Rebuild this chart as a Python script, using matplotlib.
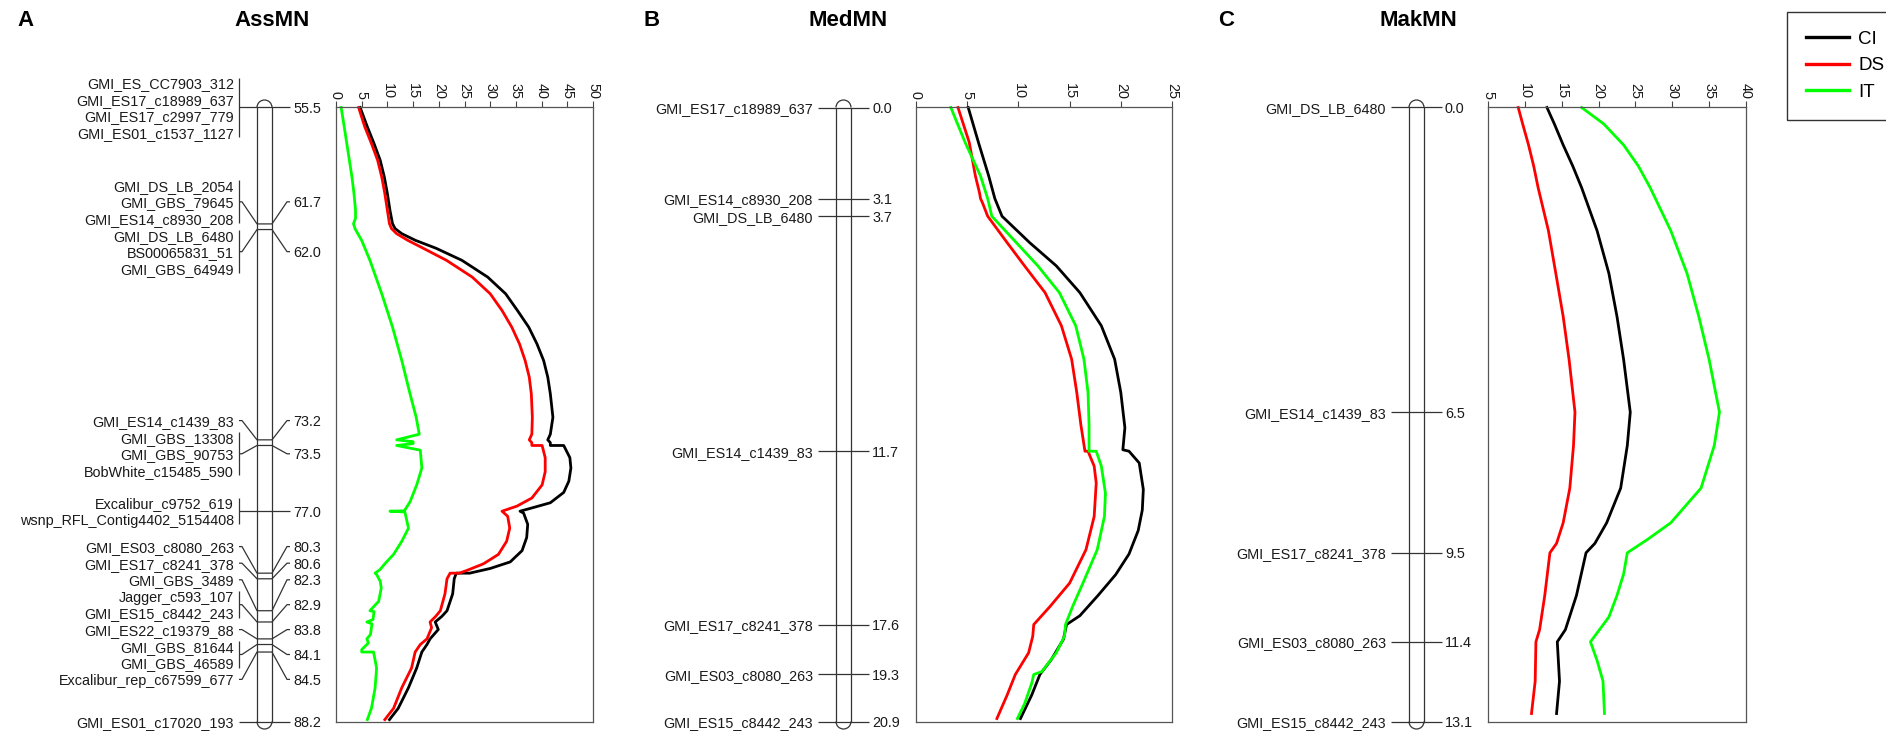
import matplotlib
matplotlib.use("Agg")
import matplotlib.pyplot as plt
from matplotlib.patches import Arc
from matplotlib.lines import Line2D

plt.rcParams['font.family'] = ['Liberation Sans', 'DejaVu Sans']

W, H = 1886, 732

# ---------------- linkage maps ----------------
a_positions = [55.5, 61.7, 62.0, 73.2, 73.5, 77.0, 80.3, 80.6, 82.3, 82.9, 83.8, 84.1, 84.5, 88.2]
a_markers = [
    ["GMI_ES_CC7903_312", "GMI_ES17_c18989_637", "GMI_ES17_c2997_779", "GMI_ES01_c1537_1127"],
    ["GMI_DS_LB_2054", "GMI_GBS_79645", "GMI_ES14_c8930_208"],
    ["GMI_DS_LB_6480", "BS00065831_51", "GMI_GBS_64949"],
    ["GMI_ES14_c1439_83"],
    ["GMI_GBS_13308", "GMI_GBS_90753", "BobWhite_c15485_590"],
    ["Excalibur_c9752_619", "wsnp_RFL_Contig4402_5154408"],
    ["GMI_ES03_c8080_263"],
    ["GMI_ES17_c8241_378"],
    ["GMI_GBS_3489"],
    ["Jagger_c593_107", "GMI_ES15_c8442_243"],
    ["GMI_ES22_c19379_88"],
    ["GMI_GBS_81644", "GMI_GBS_46589"],
    ["Excalibur_rep_c67599_677"],
    ["GMI_ES01_c17020_193"],
]

b_positions = [0.0, 3.1, 3.7, 11.7, 17.6, 19.3, 20.9]
b_markers = [["GMI_ES17_c18989_637"], ["GMI_ES14_c8930_208"], ["GMI_DS_LB_6480"],
             ["GMI_ES14_c1439_83"], ["GMI_ES17_c8241_378"], ["GMI_ES03_c8080_263"],
             ["GMI_ES15_c8442_243"]]

c_positions = [0.0, 6.5, 9.5, 11.4, 13.1]
c_markers = [["GMI_DS_LB_6480"], ["GMI_ES14_c1439_83"], ["GMI_ES17_c8241_378"],
             ["GMI_ES03_c8080_263"], ["GMI_ES15_c8442_243"]]

# ---------------- LOD curves (position cM, LOD) ----------------
a_ci_cm = [55.5, 56.53, 57.42, 58.31, 59.2, 60.09, 60.98, 61.69, 61.95, 62.22, 62.58, 63.0, 63.64,
           64.53, 65.42, 66.31, 67.2, 68.09, 68.98, 69.86, 70.75, 72.0, 72.9, 73.2, 73.35, 73.5,
           73.5, 74.15, 74.7, 75.4, 76.0, 76.55, 76.85, 77.0, 77.1, 77.7, 78.4, 79.1, 79.7, 80.05,
           80.3, 80.3, 80.6, 81.4, 82.3, 82.6, 82.9, 83.3, 83.8, 84.1, 84.5, 85.35, 86.4, 87.5, 88.1]
a_ci_lod = [4.7, 6.1, 7.4, 8.6, 9.4, 10.0, 10.5, 11.0, 11.5, 12.8, 15.5, 19.5, 24.5,
            29.5, 33.0, 35.3, 37.5, 39.1, 40.4, 41.2, 41.7, 42.2, 41.7, 41.2, 41.7, 41.7,
            44.3, 45.5, 45.7, 45.3, 44.3, 41.7, 37.8, 35.8, 36.5, 37.3, 37.1, 36.2, 33.9, 30.0,
            26.0, 23.4, 23.0, 22.7, 21.6, 20.6, 19.3, 19.9, 18.3, 17.7, 16.7, 15.7, 14.1, 12.1, 10.4]

a_ds_cm = [55.5, 56.53, 57.42, 58.31, 59.2, 60.09, 60.98, 61.69, 61.95, 62.22, 62.58, 63.0, 63.64,
           64.53, 65.42, 66.31, 67.2, 68.09, 68.98, 69.86, 70.75, 72.0, 72.9, 73.2, 73.35, 73.5,
           73.5, 74.15, 74.9, 75.6, 76.3, 76.73, 77.0, 77.27, 77.9, 78.6, 79.3, 79.8, 80.15,
           80.3, 80.3, 80.6, 81.4, 82.3, 82.6, 82.9, 83.2, 83.8, 84.1, 84.5, 85.35, 86.4, 87.5, 88.1]
a_ds_lod = [4.4, 5.6, 6.9, 8.1, 8.9, 9.5, 10.0, 10.4, 10.8, 11.8, 14.0, 17.0, 21.5,
            26.5, 30.0, 32.3, 34.2, 35.7, 36.8, 37.6, 38.0, 38.2, 38.1, 37.6, 38.1, 38.1,
            40.1, 40.7, 40.7, 40.1, 38.1, 35.2, 32.3, 33.4, 33.8, 33.2, 31.6, 28.7, 25.5,
            24.0, 22.2, 21.6, 21.2, 20.3, 19.4, 18.3, 18.6, 17.7, 16.4, 15.4, 14.7, 12.8, 11.2, 9.5]

a_it_cm = [55.5, 56.53, 57.42, 58.31, 59.2, 60.09, 60.98, 61.4, 61.69, 61.95, 62.1, 62.58, 63.64,
           65.42, 67.2, 68.98, 70.75, 72.0, 72.9, 73.2, 73.3, 73.4, 73.5, 73.75, 74.7, 75.6,
           76.5, 76.98, 77.0, 77.04, 77.9, 78.6, 79.3, 79.8, 80.1, 80.3, 80.37, 80.73, 81.09,
           81.8, 82.3, 82.35, 82.77, 82.9, 83.0, 83.57, 83.8, 84.02, 84.37, 84.5, 84.5, 85.35,
           86.42, 87.49, 88.1]
a_it_lod = [1.0, 1.6, 2.1, 2.6, 3.1, 3.5, 3.8, 3.8, 3.4, 3.7, 4.0, 5.0, 6.6,
            8.9, 11.0, 12.8, 14.4, 15.6, 16.2, 11.8, 15.0, 15.0, 11.8, 16.4, 16.7, 15.7,
            14.4, 13.3, 10.5, 13.4, 14.1, 12.8, 11.2, 9.5, 8.6, 7.6, 7.9, 8.6, 8.8,
            8.3, 6.6, 7.4, 7.2, 6.0, 7.0, 6.7, 6.0, 6.3, 5.0, 5.0, 7.3, 7.9,
            7.6, 6.9, 6.1]

b_ci_cm = [0.0, 1.19, 2.33, 3.1, 3.7, 4.0, 4.6, 5.39, 6.3, 7.43, 8.57, 9.7, 10.9, 11.65, 11.7,
           12.1, 13.0, 13.7, 14.4, 15.2, 15.9, 16.6, 17.3, 17.6, 18.1, 18.8, 19.3, 20.0, 20.8]
b_ci_lod = [5.1, 6.1, 7.1, 7.7, 8.4, 9.3, 11.1, 13.7, 16.0, 18.1, 19.4, 20.0, 20.4, 20.2, 20.8,
            21.8, 22.2, 22.1, 21.7, 20.8, 19.5, 17.8, 16.0, 14.7, 14.4, 13.2, 12.1, 11.3, 10.2]

b_ds_cm = [0.0, 1.19, 2.33, 2.9, 3.1, 3.25, 3.7, 4.6, 5.39, 6.3, 7.43, 8.57, 9.7, 10.8, 11.7, 11.7,
           12.21, 12.78, 13.92, 15.05, 16.19, 16.98, 17.6, 18.0, 18.56, 19.3, 20.0, 20.8]
b_ds_lod = [4.1, 5.2, 5.8, 6.2, 6.3, 6.5, 7.0, 8.9, 10.6, 12.6, 14.2, 15.2, 15.7, 16.1, 16.5, 16.8,
            17.4, 17.6, 17.4, 16.6, 15.0, 13.1, 11.5, 11.4, 11.0, 9.7, 8.9, 7.9]

b_it_cm = [0.0, 1.19, 2.33, 3.1, 3.7, 4.6, 5.39, 6.3, 7.43, 8.57, 9.7, 10.8, 11.7, 11.7, 12.21,
           13.13, 13.92, 15.05, 16.19, 16.98, 17.6, 18.0, 18.56, 19.2, 19.3, 19.6, 20.3, 20.8]
b_it_lod = [3.4, 4.8, 6.3, 7.0, 7.4, 9.8, 11.9, 14.0, 15.6, 16.4, 16.8, 16.9, 16.9, 17.6, 18.1,
            18.5, 18.4, 17.7, 16.3, 15.3, 14.6, 14.5, 13.7, 12.3, 11.5, 11.3, 10.6, 9.9]

c_ci_cm = [0.0, 0.35, 0.8, 1.25, 1.71, 2.63, 3.54, 4.46, 5.38, 6.5, 7.21, 8.12, 8.86, 9.3, 9.5,
           10.41, 11.14, 11.4, 12.24, 12.93]
c_ci_lod = [13.0, 14.0, 15.2, 16.5, 17.7, 19.8, 21.4, 22.5, 23.4, 24.3, 23.9, 23.0, 21.1, 19.5,
            18.3, 17.0, 15.5, 14.4, 14.7, 14.3]

c_ds_cm = [0.0, 0.35, 0.8, 1.25, 1.71, 2.63, 3.54, 4.46, 5.38, 6.5, 7.21, 8.12, 8.86, 9.3, 9.5,
           10.41, 11.14, 11.4, 12.24, 12.93]
c_ds_lod = [9.1, 9.7, 10.5, 11.2, 11.8, 13.2, 14.2, 15.2, 16.0, 16.8, 16.6, 16.1, 15.2, 14.3,
            13.4, 12.7, 12.0, 11.5, 11.4, 10.9]

c_it_cm = [0.0, 0.35, 0.8, 1.25, 1.71, 2.63, 3.54, 4.46, 5.38, 6.5, 7.21, 8.12, 8.86, 9.22, 9.5,
           9.95, 10.41, 10.87, 11.4, 11.8, 12.24, 12.93]
c_it_lod = [17.7, 20.7, 23.4, 25.4, 27.0, 29.8, 32.0, 33.6, 35.0, 36.4, 35.7, 33.9, 29.8, 26.6,
            23.9, 23.4, 22.5, 21.4, 18.9, 19.8, 20.6, 20.8]

traits = ["CI", "DS", "IT"]
trait_colors = ["#000000", "#ff0000", "#00ff00"]

TXT = "#1a1a1a"
LINE = "#333333"
FS = 10.4


def px_axes(fig, x0, x1, y0, y1):
    return fig.add_axes([x0 / W, 1 - y1 / H, (x1 - x0) / W, (y1 - y0) / H])


def spread_labels(positions, counts, line_h):
    """Stack label blocks; overlapping blocks are merged into clusters centred
    on the middle of their wanted extent."""
    clusters = [[i] for i in range(len(positions))]

    def place(cl):
        lo = min(positions[i] - counts[i] * line_h / 2 for i in cl)
        hi = max(positions[i] + counts[i] * line_h / 2 for i in cl)
        total = sum(counts[i] for i in cl) * line_h
        start = (lo + hi) / 2 - total / 2
        out = []
        for i in cl:
            out.append(start + counts[i] * line_h / 2)
            start += counts[i] * line_h
        return start - total, start, out

    merged = True
    while merged:
        merged = False
        for k in range(len(clusters) - 1):
            _, end_k, _ = place(clusters[k])
            beg_n, _, _ = place(clusters[k + 1])
            if beg_n < end_k - 1e-9:
                clusters[k] = clusters[k] + clusters.pop(k + 1)
                merged = True
                break
    centres = []
    for cl in clusters:
        centres.extend(place(cl)[2])
    return centres


def draw_map(fig, bar_x, positions, markers, top, bottom):
    x0, x1 = bar_x - 260, bar_x + 60
    ax = px_axes(fig, x0, x1, top, bottom)
    ax.set_xlim(x0, x1)
    ax.set_ylim(positions[-1], positions[0])
    ax.axis('off')
    cm_px = (bottom - top) / (positions[-1] - positions[0])
    line_h = 16.6 / cm_px
    bl, br = bar_x, bar_x + 15

    c = spread_labels(positions, [len(m) for m in markers], line_h)

    kw = dict(color=LINE, lw=0.9, clip_on=False, solid_capstyle='butt')
    # chromosome bar
    ax.plot([bl, bl], [positions[0], positions[-1]], **kw)
    ax.plot([br, br], [positions[0], positions[-1]], **kw)
    cap_h = 15 / cm_px
    ax.add_patch(Arc((bl + 7.5, positions[0]), 15, cap_h, theta1=180, theta2=360,
                     color=LINE, lw=0.9, clip_on=False))
    ax.add_patch(Arc((bl + 7.5, positions[-1]), 15, cap_h, theta1=0, theta2=180,
                     color=LINE, lw=0.9, clip_on=False))

    for p, names, ci in zip(positions, markers, c):
        k = len(names)
        for j, name in enumerate(names):
            y = ci - k * line_h / 2 + (j + 0.5) * line_h
            ax.text(bl - 23, y, name, ha='right', va='center_baseline', fontsize=FS, color=TXT)
        if k > 1:
            ax.plot([bl - 18, bl - 18],
                    [ci - k * line_h / 2 + 0.2 * line_h, ci + k * line_h / 2 - 0.2 * line_h], **kw)
        if abs(ci - p) < 1e-6:
            ax.plot([bl - 18, br + 18], [p, p], **kw)
        else:
            ax.plot([bl - 18, bl - 15, bl, br, br + 15, br + 18], [ci, ci, p, p, ci, ci], **kw)
        ax.text(br + 21, ci, f"{p:.1f}", ha='left', va='center_baseline', fontsize=FS, color=TXT)
    return ax


def draw_curves(fig, x0, x1, top, bottom, lo, hi, positions, series):
    ax = px_axes(fig, x0, x1, top, bottom)
    for (cm, lod), col in zip(series, trait_colors):
        ax.plot(lod, cm, color=col, lw=2.0, solid_joinstyle='round', clip_on=False)
    ax.set_xlim(lo, hi)
    ax.set_ylim(positions[-1], positions[0])
    ax.xaxis.tick_top()
    ax.set_xticks(range(lo, hi + 1, 5))
    ax.set_yticks([])
    ax.tick_params(axis='x', direction='out', length=4, width=0.8, pad=2,
                   labelsize=FS, colors='#444444', labelcolor=TXT)
    plt.setp(ax.get_xticklabels(), rotation=270, va='bottom', ha='center')
    for s in ax.spines.values():
        s.set_color('#555555')
        s.set_linewidth(0.9)
    return ax


fig = plt.figure(figsize=(W / 100, H / 100), dpi=100)

TOP, BOT = 107.5, 721.5

draw_map(fig, 257, a_positions, a_markers, TOP, BOT)
draw_curves(fig, 336, 593, TOP, BOT, 0, 50, a_positions,
            [(a_ci_cm, a_ci_lod), (a_ds_cm, a_ds_lod), (a_it_cm, a_it_lod)])

draw_map(fig, 836, b_positions, b_markers, TOP, BOT)
draw_curves(fig, 916, 1172, TOP, BOT, 0, 25, b_positions,
            [(b_ci_cm, b_ci_lod), (b_ds_cm, b_ds_lod), (b_it_cm, b_it_lod)])

draw_map(fig, 1409, c_positions, c_markers, TOP, BOT)
draw_curves(fig, 1488, 1746, TOP, BOT, 5, 40, c_positions,
            [(c_ci_cm, c_ci_lod), (c_ds_cm, c_ds_lod), (c_it_cm, c_it_lod)])

# panel letters and titles
for letter, lx, title, tx in [("A", 25, "AssMN", 272), ("B", 652, "MedMN", 848),
                              ("C", 1226, "MakMN", 1418)]:
    fig.text(lx / W, 1 - 21 / H, letter, ha='center', va='center', fontsize=16,
             fontweight='bold', color='black')
    fig.text(tx / W, 1 - 21 / H, title, ha='center', va='center', fontsize=16,
             fontweight='bold', color='black')

handles = [Line2D([], [], color=col, lw=2.4) for col in trait_colors]
leg = fig.legend(handles, traits, loc='upper left', bbox_to_anchor=(1787 / W, 1 - 12 / H),
                 frameon=True, fancybox=False, fontsize=13.5, handlelength=2.3,
                 handletextpad=0.5, labelspacing=0.5, borderpad=1.0, borderaxespad=0)
leg.get_frame().set_edgecolor('black')
leg.get_frame().set_linewidth(1.0)

fig.savefig("out.png", dpi=100)
